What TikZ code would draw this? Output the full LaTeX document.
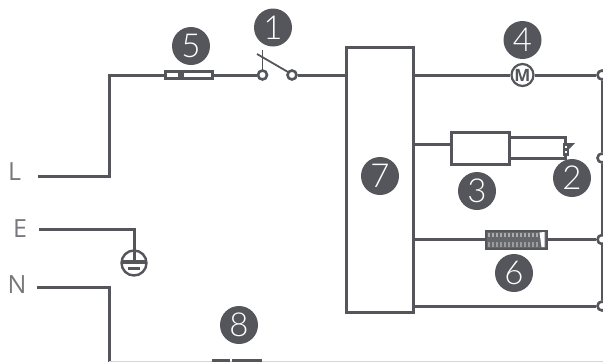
\documentclass[tikz,border=0pt]{standalone}
\usepackage{fontspec}
\setmainfont{Open Sans}
\newfontfamily\litefont{Lato Light}
\definecolor{ink}{HTML}{55565B}
\begin{document}
\begin{tikzpicture}[x=1pt,y=-1pt,
  wire/.style={draw=ink,line width=3pt,line join=miter},
  wirethin/.style={draw=ink,line width=2.6pt,line join=miter},
  badge/.style={circle,fill=ink,text=white,minimum size=38pt,inner sep=0pt,font=\litefont\fontsize{33}{33}\selectfont},
  lbl/.style={text=ink!80,inner sep=0pt,font=\fontsize{25}{27}\selectfont},
  box/.style={draw=ink,line width=3pt,fill=white,inner sep=0pt},
  term/.style={circle,draw=ink,line width=2.6pt,fill=white,minimum size=9pt,inner sep=0pt}]
\useasboundingbox (0,0) rectangle (603,362);
\clip (0,0) rectangle (603,362);
\fill[white] (0,0) rectangle (603,362);
% free ends
\coordinate (Lend) at (38,176);
\coordinate (Eend) at (39,229);
\coordinate (Nend) at (37,287);
% right bus terminals
\node[term] (t1) at (602,75) {};
\node[term] (t2) at (602,158) {};
\node[term] (t3) at (602,239.5) {};
\node[term] (t4) at (602,306) {};
% main components
\node[box,minimum width=47pt,minimum height=7pt] (fuse) at (189,75) {};
\node[term] (sw1) at (262.5,75) {};
\node[term] (sw2) at (292,75) {};
\node[box,minimum width=67pt,minimum height=265pt] (ctrl) at (379.5,179.5) {};
\node[circle,draw=ink,line width=2.2pt,fill=white,minimum size=22pt,inner sep=0pt,text=ink,font=\bfseries\fontsize{17}{17}\selectfont] (motor) at (522.5,75) {M};
\node[box,minimum width=58pt,minimum height=32pt] (relay) at (480.5,148) {};
\node[draw=ink,line width=2pt,fill=ink,minimum width=4pt,minimum height=11pt,inner sep=0pt] (sensor) at (565.5,149) {};
\node[draw=ink,line width=2pt,fill=ink!90,minimum width=61pt,minimum height=18pt,inner sep=0pt] (heater) at (516.5,239.5) {};
\node[circle,draw=ink,line width=2.4pt,fill=white,minimum size=25pt,inner sep=0pt] (ground) at (134,263) {};
% wires
\draw[wire] (Lend) -| (109,75) -- (fuse.west);
\draw[wire] (fuse.east) -- (sw1.west);
\draw[wire] (sw2.east) -- (ctrl.west |- sw2);
\draw[wire] (ctrl.east |- motor) -- (motor.west);
\draw[wire] (motor.east) -- (t1.west);
\draw[wirethin] (ctrl.east |- 0,144.5) -- (relay.west |- 0,144.5);
\draw[wirethin] (510,137.5) -| (sensor.north);
\draw[wirethin] (510,158.5) -| (sensor.south);
\draw[wirethin] (ctrl.east |- heater) -- (heater.west);
\draw[wirethin] (heater.east) -- (t3.west);
\draw[wire] (ctrl.east |- t4) -- (t4.west);
\draw[wire] (t1.south) -- (t2.north);
\draw[wire] (t2.south) -- (t3.north);
\draw[wire] (t3.south) -- (t4.north);
\draw[wire] (Eend) -| (ground.center);
\draw[wire] (Nend) -| (109,362);
\draw[draw=ink!25,line width=.8pt] (109,361.5) -- (603,361.5);
% fuse element
\fill[ink] (178,72) rectangle (184,78);
% switch lever
\draw[draw=ink,line width=1.8pt] (sw1.north) -- (262.5,50);
\draw[draw=ink,line width=1.8pt] (257,54) -- (288,72);
% ground symbol bars
\draw[draw=ink,line width=4pt] (122.5,261.5) -- (145.5,261.5);
\draw[draw=ink,line width=2.4pt] (128,268.5) -- (140,268.5);
% sensor detail
\fill[white] (564.5,145.5) rectangle (566.5,148);
\fill[white] (564.5,150.5) rectangle (566.5,153);
\fill[ink] (568,143) -- (575,143) -- (568,150) -- cycle;
% heater window
\fill[white] (539.5,232.5) -- (544.5,232) -- (544.5,247) -- (541.5,247) -- cycle;
\foreach \x in {488,492,...,536} {
  \fill[white,opacity=.45] (\x,232.5) rectangle +(2,4.5);
  \fill[white,opacity=.35] (\x,242) rectangle +(2,4.5);
}
% bottom fuse
\fill[ink] (212,358.5) rectangle (229.5,362);
\fill[ink] (231.5,358.5) rectangle (262,362);
% labels
\node[lbl] (lL) at (14.5,172) {L};
\node[lbl] (lE) at (20,228.5) {E};
\node[lbl] (lN) at (17,284.5) {N};
% badges
\node[badge] (b1) at (273,27.5) {1};
\node[badge] (b2) at (572,178) {2};
\node[badge] (b3) at (477,191) {3};
\node[badge] (b4) at (522.5,40) {4};
\node[badge] (b5) at (191,46) {5};
\node[badge] (b6) at (514,273) {6};
\node[badge] (b7) at (380,176) {7};
\node[badge] (b8) at (239,325) {8};
\end{tikzpicture}
\end{document}
